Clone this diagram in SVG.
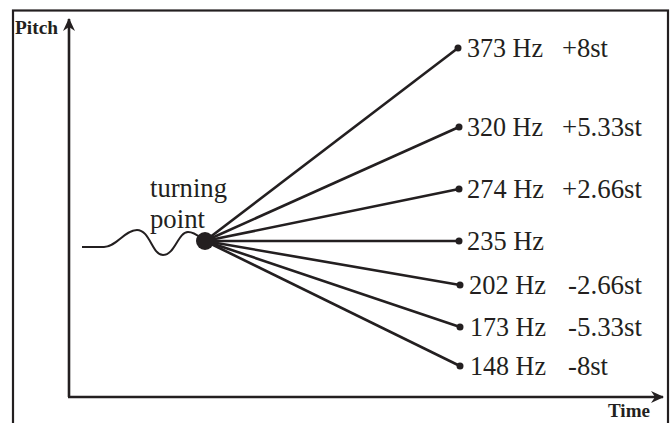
<svg xmlns="http://www.w3.org/2000/svg" width="672" height="423" viewBox="0 0 672 423">
<style>
.lbl{font-family:"Liberation Serif","Times New Roman",serif;font-size:27px;fill:#231f20}
.ax{font-family:"Liberation Serif","Times New Roman",serif;font-size:19px;font-weight:bold;fill:#231f20}
.ray{stroke:#231f20;stroke-width:2.6;fill:none}
.axis{stroke:#231f20;stroke-width:2.6;fill:none}
</style>
<defs>
<marker id="ah" viewBox="0 0 14 14" refX="12" refY="7" markerWidth="14" markerHeight="14" markerUnits="userSpaceOnUse" orient="auto">
<path d="M0,1 L13,7 L0,13 L4,7 Z" fill="#231f20"/>
</marker>
</defs>
<rect x="0" y="0" width="672" height="423" fill="#ffffff"/>
<rect x="13" y="10.5" width="655" height="430" fill="none" stroke="#231f20" stroke-width="2.2"/>
<g id="axes">
<line class="axis" x1="69" y1="397" x2="69" y2="19" marker-end="url(#ah)"/>
<line class="axis" x1="68" y1="397" x2="663" y2="397" marker-end="url(#ah)"/>
<text class="ax" x="15" y="34" textLength="43" lengthAdjust="spacingAndGlyphs">Pitch</text>
<text class="ax" x="608" y="417" textLength="42" lengthAdjust="spacingAndGlyphs">Time</text>
</g>
<g id="contour">
<path d="M82,247 L104,247 C116,247 125,230 137,230 C150,230 152,255 163,255 C175,255 178,232 188,232 C196,232 200,238 205,241" stroke="#231f20" stroke-width="2" fill="none"/>
</g>
<g id="connectors">
<line class="ray" x1="205" y1="241" x2="458" y2="48"/>
<line class="ray" x1="205" y1="241" x2="459" y2="127"/>
<line class="ray" x1="205" y1="241" x2="459" y2="189"/>
<line class="ray" x1="205" y1="241" x2="459" y2="241"/>
<line class="ray" x1="205" y1="241" x2="460" y2="285"/>
<line class="ray" x1="205" y1="241" x2="460" y2="327"/>
<line class="ray" x1="205" y1="241" x2="460" y2="366"/>
</g>
<g id="turning-point">
<circle cx="205" cy="241" r="9" fill="#231f20"/>
<text class="lbl" x="150" y="197" font-size="29" textLength="77" lengthAdjust="spacingAndGlyphs">turning</text>
<text class="lbl" x="150" y="228" font-size="29" textLength="55" lengthAdjust="spacingAndGlyphs">point</text>
</g>
<g id="t373">
<circle cx="458" cy="48" r="3.5" fill="#231f20"/>
<text class="lbl" x="467" y="57" textLength="76" lengthAdjust="spacingAndGlyphs">373 Hz</text>
<text class="lbl" x="562" y="57" textLength="46" lengthAdjust="spacingAndGlyphs">+8st</text>
</g>
<g id="t320">
<circle cx="459" cy="127" r="3.5" fill="#231f20"/>
<text class="lbl" x="467" y="136" textLength="76" lengthAdjust="spacingAndGlyphs">320 Hz</text>
<text class="lbl" x="562" y="136" textLength="80" lengthAdjust="spacingAndGlyphs">+5.33st</text>
</g>
<g id="t274">
<circle cx="459" cy="189" r="3.5" fill="#231f20"/>
<text class="lbl" x="467" y="198" textLength="77" lengthAdjust="spacingAndGlyphs">274 Hz</text>
<text class="lbl" x="562" y="198" textLength="80" lengthAdjust="spacingAndGlyphs">+2.66st</text>
</g>
<g id="t235">
<circle cx="459" cy="241" r="3.5" fill="#231f20"/>
<text class="lbl" x="467" y="250" textLength="77" lengthAdjust="spacingAndGlyphs">235 Hz</text>
</g>
<g id="t202">
<circle cx="460" cy="285" r="3.5" fill="#231f20"/>
<text class="lbl" x="469" y="294" textLength="77" lengthAdjust="spacingAndGlyphs">202 Hz</text>
<text class="lbl" x="568" y="294" textLength="74" lengthAdjust="spacingAndGlyphs">-2.66st</text>
</g>
<g id="t173">
<circle cx="460" cy="327" r="3.5" fill="#231f20"/>
<text class="lbl" x="470" y="336" textLength="76" lengthAdjust="spacingAndGlyphs">173 Hz</text>
<text class="lbl" x="568" y="336" textLength="74" lengthAdjust="spacingAndGlyphs">-5.33st</text>
</g>
<g id="t148">
<circle cx="460" cy="366" r="3.5" fill="#231f20"/>
<text class="lbl" x="470" y="375" textLength="76" lengthAdjust="spacingAndGlyphs">148 Hz</text>
<text class="lbl" x="568" y="375" textLength="40" lengthAdjust="spacingAndGlyphs">-8st</text>
</g>
</svg>
